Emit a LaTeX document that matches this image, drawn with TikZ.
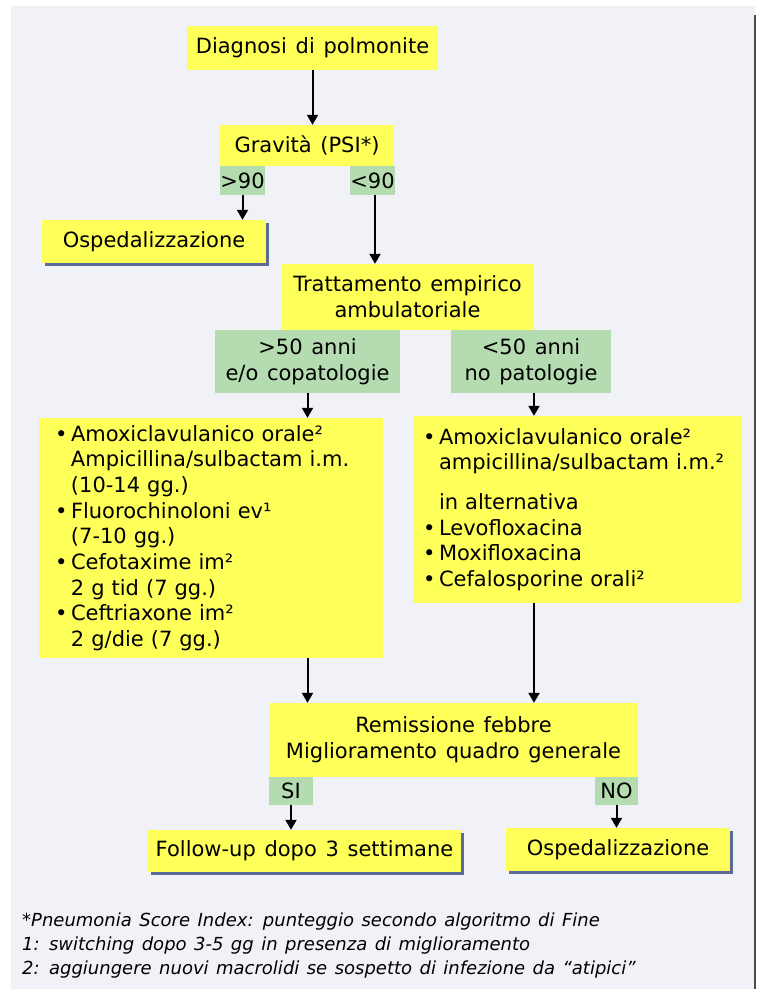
\documentclass[tikz,border=0pt]{standalone}
\usepackage{fontspec}
\setmainfont[WordSpace=1.3]{DejaVu Sans}
\usetikzlibrary{arrows.meta,shadows}

\definecolor{boxyellow}{RGB}{255,255,90}
\definecolor{boxgreen}{RGB}{181,220,176}
\definecolor{panelgrey}{RGB}{241,242,247}
\definecolor{shadowblue}{RGB}{92,106,152}

\newcommand{\bitem}{\makebox[16pt][l]{\textbullet}}
\newcommand{\bskip}{\hspace*{16pt}}

\begin{document}
\begin{tikzpicture}[x=1pt,y=-1pt,font=\fontsize{21}{25.7}\selectfont]
        \tikzstyle{question}=[fill=boxyellow,inner sep=0pt,align=center]
        \tikzstyle{choice}=[fill=boxgreen,inner sep=0pt,align=center]
        \tikzstyle{therapy}=[fill=boxyellow,inner xsep=16pt,inner ysep=0pt,align=left]
        \tikzstyle{outcome}=[question,drop shadow={shadow xshift=3pt,shadow yshift=-3pt,fill=shadowblue,opacity=1}]
        \tikzstyle{edge}=[draw=black,line width=2pt,-{Triangle[length=10pt,width=11pt]}]
        \tikzstyle{note}=[anchor=base west,inner sep=0pt,font=\itshape\fontsize{18}{20}\selectfont]

        \useasboundingbox (0,0) rectangle (756,989);
        \fill[panelgrey] (11,6) rectangle (755,989);
        \fill[black!70] (754,15) rectangle (756,989);

        % upper part
        \node [question,minimum width=251pt,minimum height=44pt] (diag) at (312.5,48) {Diagnosi di polmonite};
        \node [question,minimum width=174pt,minimum height=41pt] (grav) at (307,145.5) {Gravità (PSI*)};
        \node [choice,minimum width=43pt,minimum height=29pt] (gt90) at (242.5,180.5) {>90};
        \node [choice,minimum width=43pt,minimum height=29pt] (lt90) at (372.5,180.5) {<90};
        \node [outcome,minimum width=224pt,minimum height=43pt] (osp1) at (154,241.5) {Ospedalizzazione};
        \node [question,minimum width=251pt,minimum height=66pt] (tratt) at (407.5,297) {Trattamento empirico\\ambulatoriale};
        \node [choice,minimum width=185pt,minimum height=63pt] (old) at (307.5,361.5) {>50 anni\\e/o copatologie};
        \node [choice,minimum width=160pt,minimum height=63pt] (young) at (531,361.5) {<50 anni\\no patologie};

        % therapies
        \node [therapy,text width=312pt,minimum height=240pt] (therold) at (211,538) {%
          \bitem Amoxiclavulanico orale²\\
          \bskip Ampicillina/sulbactam i.m.\\
          \bskip (10-14 gg.)\\
          \bitem Fluorochinoloni ev¹\\
          \bskip (7-10 gg.)\\
          \bitem Cefotaxime im²\\
          \bskip 2 g tid (7 gg.)\\
          \bitem Ceftriaxone im²\\
          \bskip 2 g/die (7 gg.)};
        \node [therapy,inner xsep=10pt,text width=309pt,minimum height=187pt] (theryoung) at (577.5,509.5) {%
          \bitem Amoxiclavulanico orale²\\
          \bskip ampicillina/sulbactam i.m.²\\[14pt]
          \bskip in alternativa\\
          \bitem Levofloxacina\\
          \bitem Moxifloxacina\\
          \bitem Cefalosporine orali²};

        % lower part
        \node [question,minimum width=369pt,minimum height=74pt] (remiss) at (453.5,740) {Remissione febbre\\Miglioramento quadro generale};
        \node [choice,minimum width=44pt,minimum height=28pt] (si) at (291,791) {SI};
        \node [choice,minimum width=43pt,minimum height=28pt] (no) at (616.5,791) {NO};
        \node [outcome,minimum width=313pt,minimum height=42pt] (follow) at (304.5,851) {Follow-up dopo 3 settimane};
        \node [outcome,minimum width=224pt,minimum height=43pt] (osp2) at (618,849.5) {Ospedalizzazione};

        \draw[edge] (diag.south) -- (diag.south |- grav.north);
        \draw[edge] (gt90.south) -- (gt90.south |- osp1.north);
        \draw[edge] ([xshift=2.5pt]lt90.south) -- ([xshift=2.5pt]lt90.south |- tratt.north);
        \draw[edge] (old.south) -- (old.south |- therold.north);
        \draw[edge] ([xshift=3pt]young.south) -- ([xshift=3pt]young.south |- theryoung.north);
        \draw[edge] (therold.south -| old.south) -- (old.south |- remiss.north);
        \draw[edge] (theryoung.south -| young.south) ++(3,0) -- ([xshift=3pt]young.south |- remiss.north);
        \draw[edge] (si.south) -- (si.south |- follow.north);
        \draw[edge] (no.south) -- (no.south |- osp2.north);

        % notes
        \node [note] (note1) at (22,926) {*Pneumonia Score Index: punteggio secondo algoritmo di Fine};
        \node [note] (note2) at (22,950) {1: switching dopo 3-5 gg in presenza di miglioramento};
        \node [note] (note3) at (22,974) {2: aggiungere nuovi macrolidi se sospetto di infezione da “atipici”};
\end{tikzpicture}
\end{document}
